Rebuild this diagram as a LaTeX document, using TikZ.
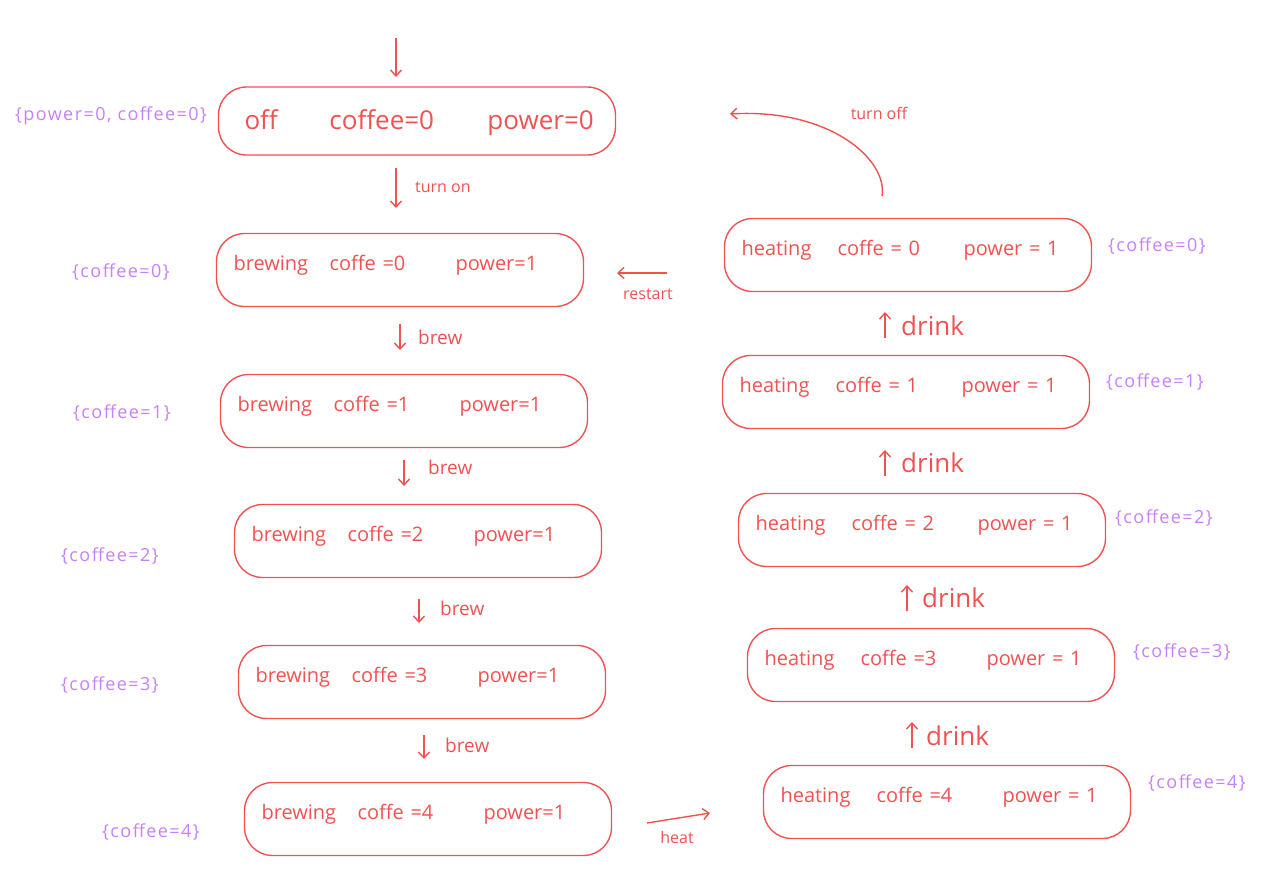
\documentclass[tikz,border=0pt]{standalone}
\usepackage{fontspec}
\setmainfont{Open Sans}
\newfontfamily\notefont[LetterSpace=8]{Open Sans}
\usetikzlibrary{arrows.meta}
\definecolor{inkred}{HTML}{F05252}
\definecolor{inkpurple}{HTML}{C880FA}
\newcommand\trioline[3]{\rule[-15pt]{0pt}{1pt}\makebox[96pt][l]{#1}\makebox[126pt][l]{#2}#3}
\newcommand\offline[3]{\rule{0pt}{24pt}\makebox[85pt][l]{#1}\makebox[158pt][l]{#2}#3}
\tikzset{
  statebox/.style={draw=inkred, line width=1.4pt, rounded corners=28pt,
    text=inkred, inner xsep=17pt, inner ysep=0pt, text width=333pt, align=left,
    minimum height=73pt, font=\fontsize{20}{24}\selectfont},
  offbox/.style={statebox, inner xsep=26pt, text width=345pt, minimum height=68pt,
    font=\fontsize{26}{30}\selectfont},
  flow/.style={draw=inkred, line width=1.4pt, -{Straight Barb[length=6pt,width=11pt,line width=1.4pt]}},
  edgelabel/.style={text=inkred, inner sep=0pt, font=\fontsize{16}{19}\selectfont},
  brewlabel/.style={edgelabel, anchor=west, font=\fontsize{19}{22}\selectfont},
  drinklabel/.style={edgelabel, anchor=west, font=\fontsize{26}{30}\selectfont},
  note/.style={text=inkpurple, inner sep=0pt, font=\notefont\fontsize{18}{21}\selectfont}
}
\begin{document}
\begin{tikzpicture}[x=1pt,y=-1pt]
\useasboundingbox (0,0) rectangle (1286,873);
% states
\node[offbox] (off) at (417,121) {\offline{off}{coffee=0}{power=0}};
\node[statebox] (b0) at (400,270) {\trioline{brewing}{coffe =0}{power=1}};
\node[statebox] (b1) at (404,411) {\trioline{brewing}{coffe =1}{power=1}};
\node[statebox] (b2) at (418,541) {\trioline{brewing}{coffe =2}{power=1}};
\node[statebox] (b3) at (422,682) {\trioline{brewing}{coffe =3}{power=1}};
\node[statebox] (b4) at (428,819) {\trioline{brewing}{coffe =4}{power=1}};
\node[statebox] (h0) at (908,255) {\trioline{heating}{coffe = 0}{power = 1}};
\node[statebox] (h1) at (906,392) {\trioline{heating}{coffe = 1}{power = 1}};
\node[statebox] (h2) at (922,530) {\trioline{heating}{coffe = 2}{power = 1}};
\node[statebox] (h3) at (931,665) {\trioline{heating}{coffe =3}{power = 1}};
\node[statebox] (h4) at (947,802) {\trioline{heating}{coffe =4}{power = 1}};
% annotations
\node[note] (n0) at (111,116) {\{power=0, coffee=0\}};
\node[note] (n1) at (121,272) {\{coffee=0\}};
\node[note] (n2) at (122,413) {\{coffee=1\}};
\node[note] (n3) at (110,556) {\{coffee=2\}};
\node[note] (n4) at (110,685) {\{coffee=3\}};
\node[note] (n5) at (151,832) {\{coffee=4\}};
\node[note] (m0) at (1157,246) {\{coffee=0\}};
\node[note] (m1) at (1155,382) {\{coffee=1\}};
\node[note] (m2) at (1164,518) {\{coffee=2\}};
\node[note] (m3) at (1182,652) {\{coffee=3\}};
\node[note] (m4) at (1197,783) {\{coffee=4\}};
% connector end points
\coordinate (i1) at (396,38);   \coordinate (i2) at (396,77);
\coordinate (t1) at (396,168);  \coordinate (t2) at (396,208);
\coordinate (w1) at (400,324);  \coordinate (w2) at (400,350);
\coordinate (x1) at (404,460);  \coordinate (x2) at (404,486);
\coordinate (y1) at (419,599);  \coordinate (y2) at (419,623);
\coordinate (z1) at (424,735);  \coordinate (z2) at (424,759);
\coordinate (d1) at (885,338);  \coordinate (d2) at (885,312);
\coordinate (e1) at (885,476);  \coordinate (e2) at (885,450);
\coordinate (f1) at (907,611);  \coordinate (f2) at (907,585);
\coordinate (g1) at (912,748);  \coordinate (g2) at (912,722);
\coordinate (r1) at (667,273);  \coordinate (r2) at (617,273);
\coordinate (k1) at (647,823);  \coordinate (k2) at (710,813);
\coordinate (o1) at (882,196);  \coordinate (o2) at (730,114);
% connectors
\draw[flow] (i1) -- (i2);
\draw[flow] (t1) -- (t2);
\node[edgelabel, anchor=west] (lt) at (415,187) {turn on};
\draw[flow] (w1) -- (w2);
\node[brewlabel] (lw) at (418,337) {brew};
\draw[flow] (x1) -- (x2);
\node[brewlabel] (lx) at (428,467) {brew};
\draw[flow] (y1) -- (y2);
\node[brewlabel] (ly) at (440,608) {brew};
\draw[flow] (z1) -- (z2);
\node[brewlabel] (lz) at (445,745) {brew};
\draw[flow] (d1) -- (d2);
\node[drinklabel] (ld) at (901,326) {drink};
\draw[flow] (e1) -- (e2);
\node[drinklabel] (le) at (901,463) {drink};
\draw[flow] (f1) -- (f2);
\node[drinklabel] (lf) at (922,598) {drink};
\draw[flow] (g1) -- (g2);
\node[drinklabel] (lg) at (926,736) {drink};
\draw[flow] (r1) -- (r2);
\node[edgelabel] (lr) at (648,294) {restart};
\draw[flow] (k1) -- (k2);
\node[edgelabel] (lk) at (677,837) {heat};
\draw[flow] (o1) .. controls (888,160) and (830,108) .. (o2);
\node[edgelabel] (lo) at (879,113) {turn off};
\end{tikzpicture}
\end{document}
